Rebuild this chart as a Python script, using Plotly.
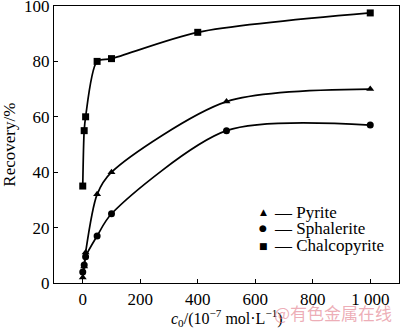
import plotly.graph_objects as go

conc_pyrite = [0, 5, 10, 50, 100, 500, 1000]
rec_pyrite = [2, 6, 11, 32, 40, 65.5, 70]
conc_sphalerite = [0, 5, 10, 50, 100, 500, 1000]
rec_sphalerite = [4, 6.5, 9.5, 17, 25, 55, 57]
conc_chalco = [0, 5, 10, 50, 100, 400, 1000]
rec_chalco = [35, 55, 60, 80, 81, 90.5, 97.5]

x_tickvals = [0, 200, 400, 600, 800, 1000]
x_ticktext = ["0", "200", "400", "600", "800", "1 000"]
y_tickvals = [0, 20, 40, 60, 80, 100]

legend_names = ["Pyrite", "Sphalerite", "Chalcopyrite"]
legend_glyphs = ["▲", "●", "■"]

FONT = "Liberation Serif, Times New Roman, serif"

fig = go.Figure()
series = [
    ("Pyrite", conc_pyrite, rec_pyrite, "triangle-up"),
    ("Sphalerite", conc_sphalerite, rec_sphalerite, "circle"),
    ("Chalcopyrite", conc_chalco, rec_chalco, "square"),
]
for name, xs, ys, sym in series:
    fig.add_trace(go.Scatter(
        x=xs, y=ys, name=name, mode="lines+markers",
        line=dict(color="black", width=1.7, shape="spline", smoothing=0.8),
        marker=dict(symbol=sym, size=7, color="black"),
        showlegend=False,
    ))

fig.update_layout(
    width=400, height=331,
    margin=dict(l=54, r=1, t=6, b=48, autoexpand=False),
    paper_bgcolor="white", plot_bgcolor="white",
    font=dict(family=FONT, size=17, color="black"),
    showlegend=False,
    xaxis=dict(range=[-100, 1100], tickvals=x_tickvals, ticktext=x_ticktext,
               ticks="inside", ticklen=4, tickcolor="black",
               tickfont=dict(size=17, family=FONT),
               showline=True, linecolor="black", linewidth=1.2, mirror=True,
               showgrid=False, zeroline=False, automargin=False),
    yaxis=dict(range=[0, 100], tickvals=y_tickvals,
               ticks="inside", ticklen=4, tickcolor="black",
               tickfont=dict(size=17, family=FONT), ticklabeloverflow="allow",
               showline=True, linecolor="black", linewidth=1.2, mirror=True,
               showgrid=False, zeroline=False, automargin=False),
)

# axis titles
fig.add_annotation(text="<i>c</i><sub>0</sub>/(10<sup>−7</sup> mol·L<sup>−1</sup>)",
                   xref="paper", yref="paper", x=0.5, y=-0.125, xanchor="center",
                   yanchor="middle", showarrow=False, font=dict(size=16, family=FONT))
fig.add_annotation(text="Recovery/%", xref="paper", yref="paper", x=-0.13, y=0.5,
                   xanchor="center", yanchor="middle", textangle=-90, showarrow=False,
                   font=dict(size=17, family=FONT))

# legend (symbol, dash, name)
leg_y = [0.256, 0.197, 0.135]
for name, glyph, yy in zip(legend_names, legend_glyphs, leg_y):
    fig.add_annotation(text=glyph, xref="paper", yref="paper", x=0.606, y=yy,
                       xanchor="center", yanchor="middle", showarrow=False,
                       font=dict(size=9, family="DejaVu Sans", color="black"))
    fig.add_annotation(text="— " + name, xref="paper", yref="paper", x=0.632, y=yy,
                       xanchor="left", yanchor="middle", showarrow=False,
                       font=dict(size=17, family=FONT, color="black"))

fig.add_annotation(text="@有色金属在线", xref="paper", yref="paper",
                   x=0.985, y=-0.108, xanchor="right", yanchor="middle", showarrow=False,
                   font=dict(family="Noto Sans CJK SC", size=17, color="rgba(225,120,135,0.6)"))

fig.write_html("out.html", config={"displayModeBar": False, "staticPlot": True},
               post_script="document.body.style.margin='0';document.body.style.padding='0';")
